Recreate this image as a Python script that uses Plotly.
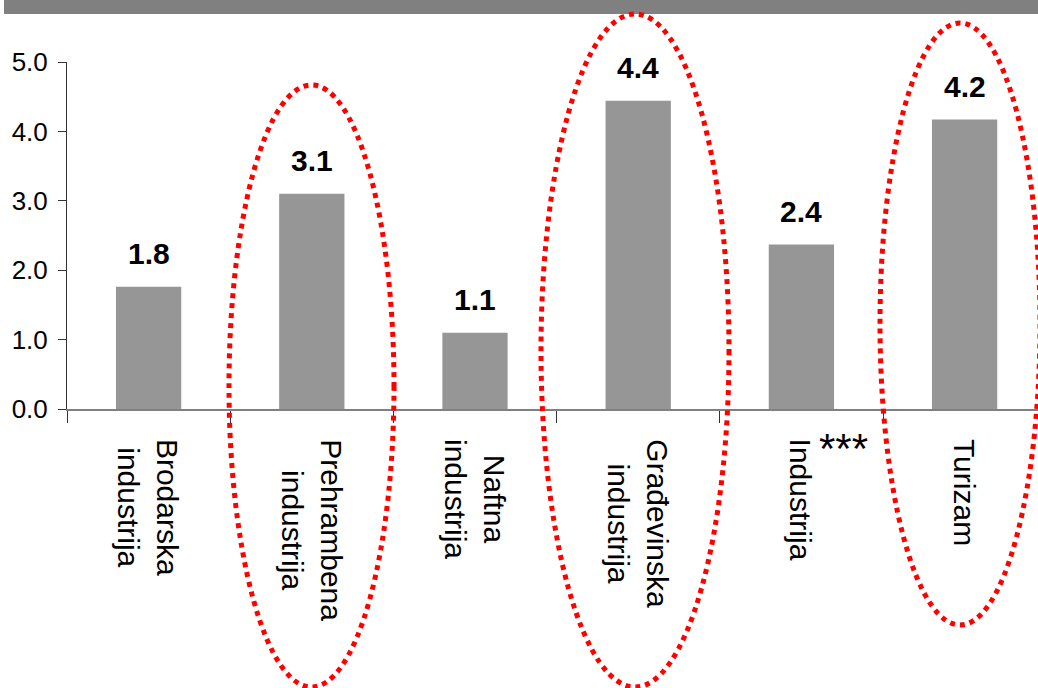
import plotly.graph_objects as go

# ---- data ----
categories = ["Brodarska<br>industrija", "Prehrambena<br>industrija", "Naftna<br>industrija",
              "Građevinska<br>industrija", "Industrija", "Turizam"]
values = [1.76, 3.10, 1.10, 4.44, 2.37, 4.17]
value_labels = [f"{v:.1f}" for v in values]
y_tick_values = [0, 1, 2, 3, 4, 5]
y_tick_labels = ["0.0", "1.0", "2.0", "3.0", "4.0", "5.0"]
note_text = "***"

# ---- geometry (pixels) ----
W, H = 1038, 688
L, R, T, B = 67, 0, 62, 279
plot_w = W - L - R
plot_h = H - T - B
cat_px = 163.2
x_range = [-0.5, -0.5 + plot_w / cat_px]


def pxx(X):
    return (X - L) / plot_w


def pxy(Y):
    return (H - B - Y) / plot_h


FONT = "Liberation Sans, Arial, sans-serif"

fig = go.Figure()
fig.add_trace(go.Bar(
    x=categories, y=values,
    marker=dict(color="#969696", line=dict(width=0)),
    hoverinfo="skip",
))

# header band
fig.add_shape(type="rect", xref="paper", yref="paper",
              x0=pxx(4), x1=pxx(1045), y0=pxy(14), y1=pxy(-5),
              fillcolor="#808080", line=dict(width=0), layer="above")

# highlight ellipses (pixel boxes)
ellipses = [(229, 85, 394, 687), (541, 14, 729, 687), (880, 23, 1040, 625)]
for (x0, y0, x1, y1) in ellipses:
    fig.add_shape(type="circle", xref="paper", yref="paper",
                  x0=pxx(x0), x1=pxx(x1), y0=pxy(y1), y1=pxy(y0),
                  line=dict(color="#FF0000", width=5, dash="dot"),
                  layer="above")

annotations = []
for c, v, t in zip(categories, values, value_labels):
    annotations.append(dict(x=c, y=v, xref="x", yref="y", text=t, showarrow=False,
                            yanchor="bottom", xanchor="center", yshift=15,
                            font=dict(family=FONT, size=30, color="black", weight="bold")))
for c in categories:
    annotations.append(dict(x=c, y=pxy(437), xref="x", yref="paper", text=c, showarrow=False,
                            textangle=90, xanchor="center", yanchor="top", align="center",
                            font=dict(family=FONT, size=30, color="black")))
annotations.append(dict(x=pxx(843), y=pxy(448), xref="paper", yref="paper", text=note_text,
                        showarrow=False, xanchor="center", yanchor="middle",
                        font=dict(family=FONT, size=42, color="black")))

fig.update_layout(
    width=W, height=H,
    margin=dict(l=L, r=R, t=T, b=B, pad=0),
    paper_bgcolor="white", plot_bgcolor="white",
    showlegend=False,
    bargap=0.6,
    annotations=annotations,
    font=dict(family=FONT, color="black"),
    xaxis=dict(type="category", range=x_range, showticklabels=False,
               ticks="outside", tickson="boundaries", ticklen=12, tickwidth=1, tickcolor="#333333",
               showline=True, linecolor="#808080", linewidth=1.5, showgrid=False, zeroline=False,
               fixedrange=True),
    yaxis=dict(range=[0, 5], tickvals=y_tick_values, ticktext=y_tick_labels,
               ticks="outside", ticklen=8, tickwidth=1, tickcolor="#333333",
               showline=True, linecolor="#333333", linewidth=1, showgrid=False, zeroline=False,
               tickfont=dict(family=FONT, size=26, color="black"), ticklabelstandoff=5,
               fixedrange=True),
)

fig.write_html("out.html")
